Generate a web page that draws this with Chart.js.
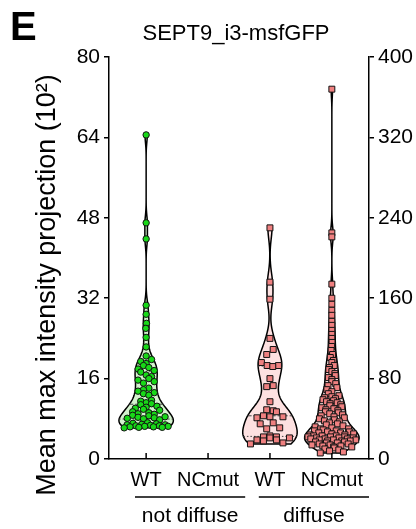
<!DOCTYPE html>
<html>
<head>
<meta charset="utf-8">
<script src="https://cdn.jsdelivr.net/npm/chart.js@4.4.1/dist/chart.umd.min.js"></script>
<style>
  html, body { margin: 0; padding: 0; background: #fff; }
  canvas { display: block; }
</style>
</head>
<body>
<canvas id="violinChart" width="416" height="529"></canvas>
<script>
// --- Datos ---
const categories = ['WT', 'NCmut', 'WT', 'NCmut'];
const groupLabels = ['not diffuse', 'diffuse'];
const leftTicks = [0, 16, 32, 48, 64, 80];
const rightTicks = [0, 80, 160, 240, 320, 400];

// not diffuse (eje izquierdo, x10^2)
const wtNotDiffuse = [64.5, 47.0, 43.8, 30.6, 28.8, 27.0, 26.0, 24.2, 22.3, 20.5,
  19.8, 19.4, 19.0, 18.6, 18.2, 17.9, 17.6, 17.3,
  16.7, 16.4, 16.0, 15.7, 15.4, 15.1,
  14.1, 13.8, 13.5, 13.2, 13.0, 12.7,
  11.7, 11.5, 11.2, 11.0, 10.8, 10.5, 10.3, 10.1, 9.9, 9.7,
  9.4, 9.2, 9.0, 8.9, 8.7, 8.6, 8.4, 8.3, 8.2, 8.1, 8.0, 7.8,
  7.2, 7.1, 7.0, 6.9, 6.8, 6.8, 6.7, 6.6, 6.6, 6.5, 6.5, 6.4, 6.4, 6.3, 6.3, 6.2];
const ncmutNotDiffuse = [];

// diffuse (eje derecho)
const wtDiffuse = [230, 176, 159, 120, 109, 104, 96, 93, 93, 92, 80, 73, 72, 57,
  49, 48, 47, 43, 42, 41, 42, 36, 35, 31, 30, 23, 22, 22, 21, 21, 19, 19, 18, 16, 15];
const ncmutDiffuse = [368, 225, 221, 174, 160,
  154, 148, 143, 137, 133, 128, 124, 120, 116, 112, 108, 104, 101,
  98, 96, 93, 91, 89, 87, 85, 83, 81, 79, 77, 75, 73, 71, 69, 67, 65, 63, 62, 61,
  60, 59, 58, 57, 56, 55, 54, 53, 52, 51, 50, 49, 48, 47, 46, 45, 44, 43, 42, 41, 40, 39, 38, 37, 36, 35,
  34, 33, 32, 31, 30, 30, 29, 28, 28, 27, 27, 26, 26, 25, 25, 24, 24, 23, 23, 23,
  22, 22, 22, 21, 21, 21, 20, 20, 20, 19, 19, 19, 18, 18, 18, 17, 17, 16, 16,
  15, 15, 14, 14, 13, 13, 12, 12, 11, 10, 9, 8, 7, 6];

// --- Configuración de cada violín ---
const GREEN = { point: '#18d818', fill: '#d5f3cf' };
const PINK = { point: '#ef8080', fill: '#fde1e1' };
const groups = [
  { values: wtNotDiffuse, cat: 0, axis: 'y', bw: 1.5, col: GREEN, style: 'circle', r: 3.2, gap: 5.4 },
  { values: ncmutNotDiffuse, cat: 1, axis: 'y', bw: 1.5, col: GREEN, style: 'circle', r: 3.2, gap: 5.4 },
  { values: wtDiffuse, cat: 2, axis: 'y2', bw: 11, col: PINK, style: 'rect', r: 4.2, gap: 6.5 },
  { values: ncmutDiffuse, cat: 3, axis: 'y2', bw: 8, col: PINK, style: 'rect', r: 4.2, gap: 6 }
];
const HALF_WIDTH = 0.44; // ancho máximo del violín (unidades del eje x)
const FONT = 'Liberation Sans, Arial, Helvetica, sans-serif';
Chart.defaults.font.family = FONT;
Chart.defaults.color = '#000';

function density(vals, bw, v) {
  let s = 0;
  for (const d of vals) { const z = (v - d) / bw; s += Math.exp(-0.5 * z * z); }
  return s;
}

function quantile(sorted, q) {
  const pos = (sorted.length - 1) * q;
  const lo = Math.floor(pos), hi = Math.ceil(pos);
  return sorted[lo] + (sorted[hi] - sorted[lo]) * (pos - lo);
}

// perfil del violín: semiancho (unidades x) para cada valor
groups.forEach(g => {
  g.sorted = g.values.slice().sort((a, b) => a - b);
  g.maxD = 0;
  if (!g.sorted.length) return;
  const lo = g.sorted[0], hi = g.sorted[g.sorted.length - 1];
  for (let k = 0; k <= 200; k++) {
    const d = density(g.sorted, g.bw, lo + (hi - lo) * k / 200);
    if (d > g.maxD) g.maxD = d;
  }
});
function halfAt(g, v) { return HALF_WIDTH * density(g.sorted, g.bw, v) / g.maxD; }

// Puntos en filas dentro del violín (estilo Prism)
function rowLayout(g, yScale, xScale) {
  const unit = xScale.getPixelForValue(1) - xScale.getPixelForValue(0);
  const out = new Array(g.values.length);
  const order = g.values.map((v, i) => i).sort((a, b) => g.values[a] - g.values[b]);
  const rows = [];
  let cur = null;
  order.forEach(i => {
    const py = yScale.getPixelForValue(g.values[i]);
    if (!cur || cur.y0 - py > g.gap) { cur = { y0: py, items: [] }; rows.push(cur); }
    cur.items.push(i);
  });
  rows.forEach((row, ri) => {
    const k = row.items.length;
    const vm = row.items.reduce((s, i) => s + g.values[i], 0) / k;
    const avail = Math.max(0, halfAt(g, vm) * unit - g.r * 0.8);
    const s = k > 1 ? Math.min(g.gap, 2 * avail / (k - 1)) : 0;
    // orden de huecos pseudo-mezclado para que no quede en diagonal
    const slots = row.items.map((_, j) => j).sort((a, b) => ((a * 0.618 + ri * 0.37) % 1) - ((b * 0.618 + ri * 0.37) % 1));
    row.items.forEach((i, j) => {
      const off = (slots[j] - (k - 1) / 2) * s;
      out[i] = { x: g.cat + off / unit, y: g.values[i] };
    });
  });
  return out;
}

// --- Violines dibujados con las escalas del gráfico ---
const violinPlugin = {
  id: 'violins',
  beforeDatasetsDraw(chart) {
    const { ctx, scales } = chart;
    const xs = scales.x;
    groups.forEach(g => {
      if (!g.sorted.length) return;
      const ys = scales[g.axis];
      const vals = g.sorted;
      const lo = vals[0], hi = vals[vals.length - 1];
      const n = 200;
      const prof = [];
      for (let k = 0; k <= n; k++) {
        const v = lo + (hi - lo) * k / n;
        prof.push([v, halfAt(g, v)]);
      }
      ctx.save();
      ctx.beginPath();
      prof.forEach(([v, w], k) => {
        const px = xs.getPixelForValue(g.cat + w), py = ys.getPixelForValue(v);
        if (k) ctx.lineTo(px, py); else ctx.moveTo(px, py);
      });
      for (let k = n; k >= 0; k--) {
        const [v, w] = prof[k];
        ctx.lineTo(xs.getPixelForValue(g.cat - w), ys.getPixelForValue(v));
      }
      ctx.closePath();
      ctx.fillStyle = g.col.fill;
      ctx.fill();
      ctx.lineWidth = 1.5;
      ctx.lineJoin = 'round';
      ctx.strokeStyle = '#000';
      ctx.stroke();

      // cuartiles y mediana
      [0.25, 0.5, 0.75].forEach(q => {
        const v = quantile(vals, q);
        const hw = halfAt(g, v);
        const py = ys.getPixelForValue(v);
        ctx.beginPath();
        ctx.setLineDash(q === 0.5 ? [4, 2] : [1.5, 2]);
        ctx.lineWidth = 1;
        ctx.strokeStyle = '#444';
        ctx.moveTo(xs.getPixelForValue(g.cat - hw), py);
        ctx.lineTo(xs.getPixelForValue(g.cat + hw), py);
        ctx.stroke();
      });
      ctx.restore();
    });
  }
};

// --- Textos, marcas internas del eje x y grupos ---
const labelsPlugin = {
  id: 'labels',
  afterDraw(chart) {
    const { ctx, scales, chartArea } = chart;
    const xs = scales.x;
    ctx.save();
    ctx.fillStyle = '#000';
    ctx.strokeStyle = '#000';

    ctx.font = 'bold 40px ' + FONT;
    ctx.textAlign = 'left';
    ctx.textBaseline = 'alphabetic';
    ctx.fillText('E', 10, 40);

    ctx.font = '22px ' + FONT;
    ctx.textAlign = 'center';
    ctx.fillText('SEPT9_i3-msfGFP', 236, 40);

    ctx.save();
    ctx.translate(55, 285);
    ctx.rotate(-Math.PI / 2);
    ctx.font = '27px ' + FONT;
    ctx.fillText('Mean max intensity projection (10\u00B2)', 0, 0);
    ctx.restore();

    // marcas del eje x hacia dentro
    ctx.lineWidth = 1.5;
    categories.forEach((c, i) => {
      const px = xs.getPixelForValue(i);
      ctx.beginPath();
      ctx.moveTo(px, chartArea.bottom);
      ctx.lineTo(px, chartArea.bottom - 6);
      ctx.stroke();
    });

    // líneas de grupo
    ctx.font = '21px ' + FONT;
    ctx.textBaseline = 'middle';
    groupLabels.forEach((lab, gi) => {
      const x0 = xs.getPixelForValue(gi * 2 - 0.18);
      const x1 = xs.getPixelForValue(gi * 2 + 1.6);
      const ly = chartArea.bottom + 38;
      ctx.beginPath();
      ctx.moveTo(x0, ly);
      ctx.lineTo(x1, ly);
      ctx.stroke();
      ctx.fillText(lab, (x0 + x1) / 2, chartArea.bottom + 57);
    });
    ctx.restore();
  }
};

const axisStyle = {
  grid: { drawOnChartArea: false, drawTicks: true, tickLength: 5, color: '#000', lineWidth: 1.5 },
  border: { display: true, color: '#000', width: 1.5 }
};

const ctxViolin = document.getElementById('violinChart').getContext('2d');
const chart = new Chart(ctxViolin, {
  type: 'scatter',
  data: {
    datasets: groups.map(g => ({
      data: g.values.map(v => ({ x: g.cat, y: v })),
      yAxisID: g.axis,
      pointStyle: g.style,
      pointRadius: g.r,
      pointHoverRadius: g.r,
      backgroundColor: g.col.point,
      borderColor: '#111',
      borderWidth: 1
    }))
  },
  options: {
    responsive: false,
    animation: false,
    events: [],
    layout: { padding: { top: 57, left: 0, right: 0, bottom: 0 } },
    plugins: { legend: { display: false }, tooltip: { enabled: false } },
    scales: {
      x: {
        type: 'linear', min: -0.6, max: 3.6,
        afterBuildTicks: s => { s.ticks = categories.map((c, i) => ({ value: i })); },
        ticks: { callback: v => categories[v], font: { size: 20 }, padding: 1, maxRotation: 0, autoSkip: false },
        grid: { display: false },
        border: { display: true, color: '#000', width: 1.5 },
        afterFit: s => { s.height = 70; }
      },
      y: {
        position: 'left', min: 0, max: 80,
        afterBuildTicks: s => { s.ticks = leftTicks.map(v => ({ value: v })); },
        ticks: { font: { size: 21 }, padding: 4 },
        ...axisStyle,
        afterFit: s => { s.width = 109; }
      },
      y2: {
        position: 'right', min: 0, max: 400,
        afterBuildTicks: s => { s.ticks = rightTicks.map(v => ({ value: v })); },
        ticks: { font: { size: 21 }, padding: 4 },
        ...axisStyle,
        afterFit: s => { s.width = 47; }
      }
    }
  },
  plugins: [violinPlugin, labelsPlugin]
});

// reparto horizontal de los puntos una vez que las escalas existen
groups.forEach((g, i) => {
  chart.data.datasets[i].data = rowLayout(g, chart.scales[g.axis], chart.scales.x);
});
chart.update('none');
</script>
</body>
</html>
